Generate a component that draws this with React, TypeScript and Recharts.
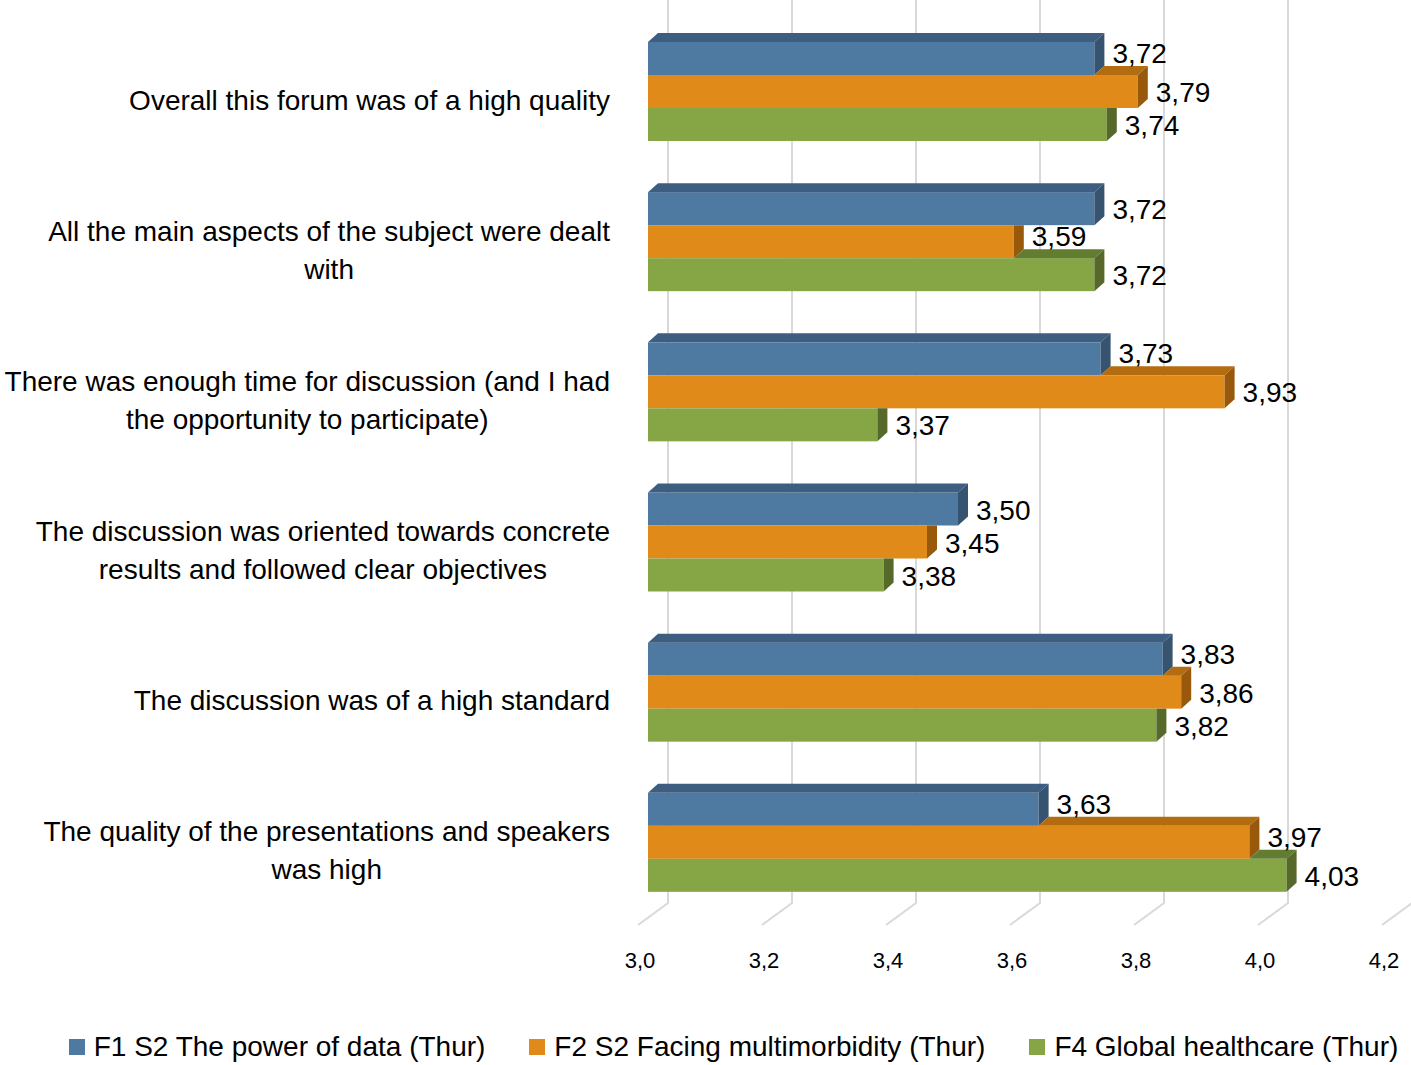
import React from 'react';
import { BarChart, Bar, XAxis, YAxis, CartesianGrid, Legend } from 'recharts';

const FONT = "'Liberation Sans', Arial, sans-serif";

// questions (category axis), with the line breaks used in the chart
const questions = [
  'Overall this forum was of a high quality',
  'All the main aspects of the subject were dealt with',
  'There was enough time for discussion (and I had the opportunity to participate)',
  'The discussion was oriented towards concrete results and followed clear objectives',
  'The discussion was of a high standard',
  'The quality of the presentations and speakers was high',
];
const questionLines = [
  ['Overall this forum was of a high quality'],
  ['All the main aspects of the subject were dealt', 'with'],
  ['There was enough time for discussion (and I had', 'the opportunity to participate)'],
  ['The discussion was oriented towards concrete', 'results and followed clear objectives'],
  ['The discussion was of a high standard'],
  ['The quality of the presentations and speakers', 'was high'],
];

const f1Values = [3.72, 3.72, 3.73, 3.5, 3.83, 3.63];
const f2Values = [3.79, 3.59, 3.93, 3.45, 3.86, 3.97];
const f4Values = [3.74, 3.72, 3.37, 3.38, 3.82, 4.03];

const seriesNames = [
  'F1 S2 The power of data (Thur)',
  'F2 S2 Facing multimorbidity (Thur)',
  'F4 Global healthcare (Thur)',
];

const xDomain: [number, number] = [3, 4.2];
const xTicks = [3.0, 3.2, 3.4, 3.6, 3.8, 4.0, 4.2];

const colors = [
  { front: '#4E79A1', top: '#3D5E80', side: '#36536F' },
  { front: '#E08A1A', top: '#B36C10', side: '#98590C' },
  { front: '#86A544', top: '#627C30', side: '#56692A' },
];

const data = questions.map((name, i) => ({
  name,
  f1: f1Values[i],
  f2: f2Values[i],
  f4: f4Values[i],
}));

const DX = 10;
const DY = 9;

let ctx: CanvasRenderingContext2D | null = null;
const measure = (s: string) => {
  if (!ctx) ctx = document.createElement('canvas').getContext('2d');
  if (!ctx) return s.length * 13;
  ctx.font = `28px ${FONT}`;
  return ctx.measureText(s).width;
};

const comma = (v: number, d: number) => v.toFixed(d).replace('.', ',');

const makeShape = (key: string, upperKey: string | null, c: { front: string; top: string; side: string }) =>
  (props: any) => {
    const { x, y, width, height, payload } = props;
    const v = payload[key];
    const perUnit = width / (v - xDomain[0]);
    const x1 = x + width;
    const ux = upperKey ? x + (payload[upperKey] - xDomain[0]) * perUnit : null;
    const ts = ux === null ? x : ux;
    const clipped = ux !== null && ux > x1;
    const side = clipped
      ? `${x1},${y} ${x1 + DX},${y} ${x1 + DX},${y + height - DY} ${x1},${y + height}`
      : `${x1},${y} ${x1 + DX},${y - DY} ${x1 + DX},${y + height - DY} ${x1},${y + height}`;
    return (
      <g>
        <rect x={x} y={y} width={width} height={height} fill={c.front} />
        {ts < x1 && (
          <polygon points={`${ts},${y} ${x1},${y} ${x1 + DX},${y - DY} ${ts + DX},${y - DY}`} fill={c.top} />
        )}
        <polygon points={side} fill={c.side} />
      </g>
    );
  };

// value label; nudged up a little when the bar below is longer
const makeLabel = (key: string, nextKey: string | null) => (p: any) => {
  const val = Array.isArray(p.value) ? p.value[1] : p.value;
  const row = typeof p.index === 'number' ? data[p.index] : null;
  const lift = row && nextKey && (row as any)[nextKey] > (row as any)[key] ? -6 : 0;
  return (
    <text
      x={p.x + p.width + DX + 8}
      y={p.y + p.height / 2 + 1 + lift}
      dominantBaseline="central"
      fontSize={28}
      fontFamily={FONT}
      fill="#000"
    >
      {comma(val, 2)}
    </text>
  );
};

const YTick = (props: any) => {
  const { x, y, payload } = props;
  const idx = questions.indexOf(payload.value);
  const lines = idx >= 0 ? questionLines[idx] : [String(payload.value)];
  const right = x - 38;
  const cx = right - measure(lines[0]) / 2;
  const lh = 38;
  const start = y + 8 - ((lines.length - 1) * lh) / 2;
  return (
    <g>
      {lines.map((l, i) => (
        <text
          key={i}
          x={cx}
          y={start + i * lh}
          textAnchor="middle"
          dominantBaseline="central"
          fontSize={28}
          fontFamily={FONT}
          fill="#000"
        >
          {l}
        </text>
      ))}
    </g>
  );
};

const XTick = (props: any) => {
  const { x, y, payload } = props;
  return (
    <text x={x - 8} y={y + 42} textAnchor="middle" dominantBaseline="central" fontSize={22} fontFamily={FONT} fill="#000">
      {comma(payload.value, 1)}
    </text>
  );
};

const gridLine = (props: any) => {
  const { x1, y1, y2 } = props;
  const bx = x1 + 20;
  const fx = x1 - 10;
  return (
    <path
      key={`g-${x1}`}
      d={`M${bx},${y1 - 17} L${bx},${y2 - 15} L${fx},${y2 + 7}`}
      stroke="#d9d9d9"
      strokeWidth={2}
      fill="none"
    />
  );
};

const LegendContent = () => (
  <div
    style={{
      display: 'flex',
      justifyContent: 'center',
      gap: 44,
      paddingLeft: 56,
      fontFamily: FONT,
      fontSize: 28,
      lineHeight: '32px',
      color: '#000',
      whiteSpace: 'nowrap',
    }}
  >
    {seriesNames.map((n, i) => (
      <div key={n} style={{ display: 'flex', alignItems: 'center' }}>
        <span style={{ width: 16, height: 16, background: colors[i].front, marginRight: 9, display: 'inline-block' }} />
        {n}
      </div>
    ))}
  </div>
);

export default function App() {
  return (
    <div style={{ position: 'absolute', left: 0, top: 0, background: '#fff' }}>
      <BarChart
        width={1411}
        height={1065}
        data={data}
        layout="vertical"
        margin={{ top: 17, right: 19, bottom: 87, left: 0 }}
        barCategoryGap={25}
        barGap={0}
      >
        <CartesianGrid horizontal={false} vertical={gridLine} />
        <XAxis
          type="number"
          domain={xDomain}
          ticks={xTicks}
          allowDataOverflow
          axisLine={false}
          tickLine={false}
          tickSize={0}
          tickMargin={0}
          height={60}
          tick={<XTick />}
        />
        <YAxis
          type="category"
          dataKey="name"
          width={648}
          axisLine={false}
          tickLine={false}
          tickSize={0}
          tickMargin={0}
          interval={0}
          tick={<YTick />}
        />
        <Legend
          layout="horizontal"
          verticalAlign="middle"
          align="center"
          wrapperStyle={{ top: 1031, left: 0, width: 1411 }}
          content={<LegendContent />}
        />
        <Bar dataKey="f1" name={seriesNames[0]} fill={colors[0].front} isAnimationActive={false}
          shape={makeShape('f1', null, colors[0])} label={makeLabel('f1', 'f2')} />
        <Bar dataKey="f2" name={seriesNames[1]} fill={colors[1].front} isAnimationActive={false}
          shape={makeShape('f2', 'f1', colors[1])} label={makeLabel('f2', 'f4')} />
        <Bar dataKey="f4" name={seriesNames[2]} fill={colors[2].front} isAnimationActive={false}
          shape={makeShape('f4', 'f2', colors[2])} label={makeLabel('f4', null)} />
      </BarChart>
    </div>
  );
}
